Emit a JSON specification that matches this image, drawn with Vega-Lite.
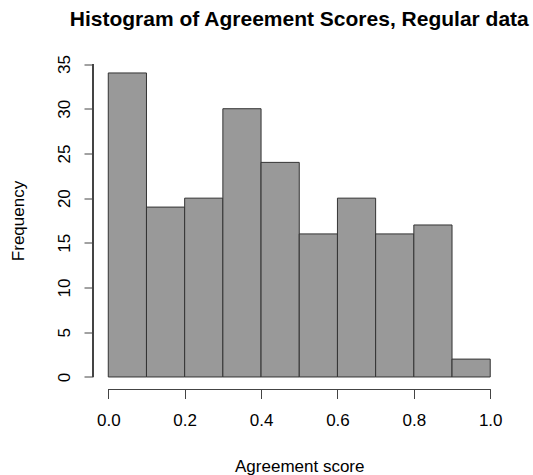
{
  "$schema": "https://vega.github.io/schema/vega-lite/v6.json",
  "width": 412.5,
  "height": 338,
  "autosize": {"type": "none"},
  "padding": {"left": 93, "top": 51.5, "right": 27.5, "bottom": 85.5},
  "background": "white",
  "config": {
    "view": {"stroke": null},
    "font": "Liberation Sans",
    "axis": {"grid": false, "labelFont": "Liberation Sans", "titleFont": "Liberation Sans", "labelColor": "black", "titleColor": "black", "titleFontWeight": "normal"}
  },
  "title": {
    "text": "Histogram of Agreement Scores, Regular data",
    "fontSize": 21,
    "fontWeight": "bold",
    "font": "Liberation Sans",
    "anchor": "middle",
    "offset": 22,
    "color": "black"
  },
  "data": {
    "values": [
      {"bin_start": 0.0, "bin_end": 0.1, "count": 34},
      {"bin_start": 0.1, "bin_end": 0.2, "count": 19},
      {"bin_start": 0.2, "bin_end": 0.3, "count": 20},
      {"bin_start": 0.3, "bin_end": 0.4, "count": 30},
      {"bin_start": 0.4, "bin_end": 0.5, "count": 24},
      {"bin_start": 0.5, "bin_end": 0.6, "count": 16},
      {"bin_start": 0.6, "bin_end": 0.7, "count": 20},
      {"bin_start": 0.7, "bin_end": 0.8, "count": 16},
      {"bin_start": 0.8, "bin_end": 0.9, "count": 17},
      {"bin_start": 0.9, "bin_end": 1.0, "count": 2}
    ]
  },
  "layer": [
    {
      "mark": {"type": "rect", "fill": "#999999", "stroke": "#333333", "strokeWidth": 1},
      "encoding": {
        "x": {
          "field": "bin_start", "type": "quantitative",
          "scale": {"domain": [-0.04, 1.04], "nice": false, "zero": false},
          "axis": {
            "values": [0, 0.2, 0.4, 0.6, 0.8, 1.0],
            "format": ".1f",
            "domain": false,
            "tickSize": 9,
            "tickColor": "#444444",
            "tickWidth": 1,
            "labelFontSize": 17,
            "labelPadding": 14,
            "title": "Agreement score",
            "titleFontSize": 17,
            "titleY": 76.5,
            "titleBaseline": "middle"
          }
        },
        "x2": {"field": "bin_end"},
        "y": {
          "field": "count", "type": "quantitative",
          "scale": {"domain": [-1.4, 36.4], "nice": false, "zero": false},
          "axis": {
            "values": [0, 5, 10, 15, 20, 25, 30, 35],
            "domain": false,
            "tickSize": 9,
            "tickColor": "#444444",
            "tickWidth": 1,
            "labelAngle": -90,
            "labelAlign": "center",
            "labelBaseline": "bottom",
            "labelFontSize": 17,
            "labelPadding": 11,
            "title": "Frequency",
            "titleFontSize": 17,
            "titleX": -75,
            "titleBaseline": "middle"
          }
        },
        "y2": {"datum": 0}
      }
    },
    {
      "mark": {"type": "rule", "color": "#444444", "strokeWidth": 1},
      "encoding": {
        "x": {"datum": 0},
        "x2": {"datum": 1},
        "y": {"datum": -1.4}
      }
    },
    {
      "mark": {"type": "rule", "color": "#444444", "strokeWidth": 1},
      "encoding": {
        "x": {"datum": -0.04},
        "y": {"datum": 0},
        "y2": {"datum": 35}
      }
    }
  ]
}
